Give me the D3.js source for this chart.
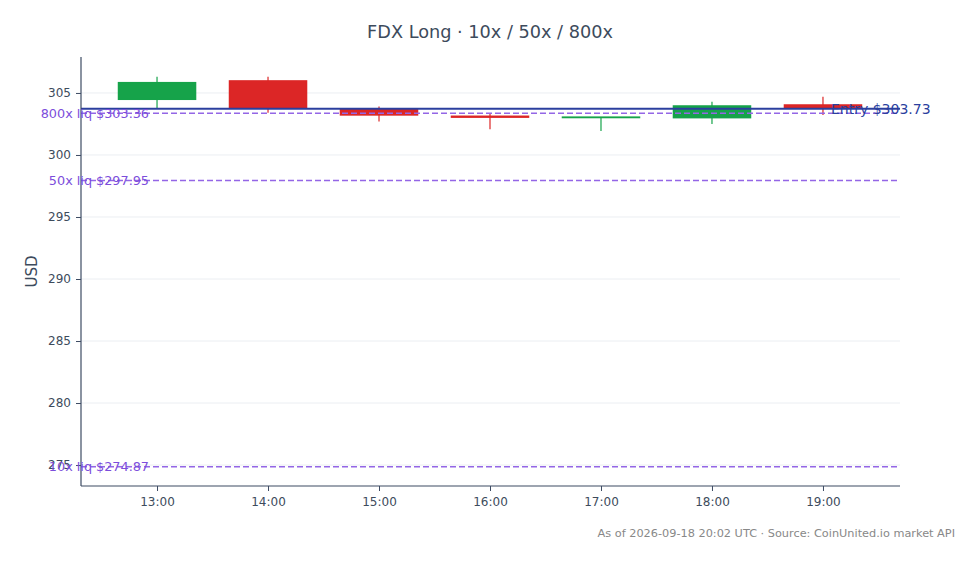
<!DOCTYPE html>
<html><head><meta charset="utf-8">
<script src="https://cdn.jsdelivr.net/npm/d3@7"></script>
<style>body{margin:0;background:#fff}svg{display:block}</style>
</head><body>
<svg id="c" width="979" height="564"></svg>
<script>
// ---- data ----
const times = ["2026-09-18T13:00Z","2026-09-18T14:00Z","2026-09-18T15:00Z","2026-09-18T16:00Z","2026-09-18T17:00Z","2026-09-18T18:00Z","2026-09-18T19:00Z"];
const opens  = [304.49, 305.97, 303.65, 303.12, 303.02, 303.01, 304.03];
const highs  = [306.31, 306.31, 303.90, 303.36, 303.05, 304.30, 304.70];
const lows   = [303.79, 303.40, 302.69, 302.07, 301.94, 302.50, 303.23];
const closes = [305.83, 303.77, 303.23, 303.05, 303.05, 303.95, 303.77];
const entryPrice = 303.73;
const liqLabels = ["800x liq $303.36", "50x liq $297.95", "10x liq $274.87"];
const liqPrices = [303.36, 297.95, 274.87];
const yTicks = [275, 280, 285, 290, 295, 300, 305];
const titleText = "FDX Long · 10x / 50x / 800x";
const footerText = "As of 2026-09-18 20:02 UTC · Source: CoinUnited.io market API";

// ---- layout ----
const svg = d3.select("#c");
const L = 81, R = 900, T = 57, B = 486;
const font = "'DejaVu Sans', sans-serif";
const dates = times.map(t => new Date(t));
const HOUR = 3600e3;
const x = d3.scaleUtc()
  .domain([new Date(+dates[0] - 0.685 * HOUR), new Date(+dates[dates.length - 1] + 0.694 * HOUR)])
  .range([L, R]);
const y = d3.scaleLinear().domain([273.31, 307.9]).range([B, T]);

// grid
svg.append("g").selectAll("line").data(yTicks).join("line")
  .attr("x1", L).attr("x2", R).attr("y1", d => y(d)).attr("y2", d => y(d))
  .attr("stroke", "#ebeef2").attr("stroke-width", 1);

// candles
const candles = dates.map((d, i) => ({d, o: opens[i], h: highs[i], l: lows[i], c: closes[i]}));
const halfW = 0.347 * HOUR;
const g = svg.append("g");
candles.forEach(k => {
  const col = k.c >= k.o ? "#16a34a" : "#dc2626";
  const cx = x(k.d);
  g.append("line").attr("x1", cx).attr("x2", cx).attr("y1", y(k.h)).attr("y2", y(k.l))
    .attr("stroke", col).attr("stroke-width", 1.2);
  const x0 = x(new Date(+k.d - halfW)), x1 = x(new Date(+k.d + halfW));
  const top = y(Math.max(k.o, k.c)), bot = y(Math.min(k.o, k.c));
  g.append("rect").attr("x", x0).attr("width", x1 - x0)
    .attr("y", top).attr("height", Math.max(0.01, bot - top))
    .attr("fill", col).attr("stroke", col).attr("stroke-width", 1.5);
});

// liq lines
svg.append("g").selectAll("line").data(liqPrices).join("line")
  .attr("x1", L).attr("x2", R).attr("y1", d => y(d)).attr("y2", d => y(d))
  .attr("stroke", "#9466e6").attr("stroke-width", 1.5).attr("stroke-dasharray", "6,3");

// entry line
svg.append("line").attr("x1", L).attr("x2", R).attr("y1", y(entryPrice)).attr("y2", y(entryPrice))
  .attr("stroke", "#2b3f9e").attr("stroke-width", 2);

// axes
const yAxis = d3.axisLeft(y).tickValues(yTicks).tickSize(5).tickPadding(5).tickFormat(d3.format("d"));
const ya = svg.append("g").attr("transform", `translate(${L},0)`).call(yAxis);
ya.select(".domain").attr("d", `M0,${T}V${B}`);
const xAxis = d3.axisBottom(x).tickValues(dates).tickSize(5).tickPadding(6).tickFormat(d3.utcFormat("%H:%M"));
const xa = svg.append("g").attr("transform", `translate(0,${B})`).call(xAxis);
xa.select(".domain").attr("d", `M${L},0H${R}`);
[ya, xa].forEach(a => {
  a.select(".domain").attr("stroke", "#3d4b63").attr("stroke-width", 1.2);
  a.selectAll(".tick line").attr("stroke", "#3d4b63");
  a.selectAll(".tick text").attr("fill", "#3d4b5c").attr("font-size", 12).attr("font-family", font);
});

// liq labels
svg.append("g").selectAll("text").data(liqPrices).join("text")
  .attr("x", 149).attr("y", d => y(d)).attr("dy", "0.35em").attr("text-anchor", "end")
  .attr("fill", "#7c4ddb").attr("font-size", 12.8).attr("font-family", font)
  .text((d, i) => liqLabels[i]);

// entry label
svg.append("text").attr("x", 831).attr("y", y(entryPrice)).attr("dy", "0.35em")
  .attr("fill", "#2b3f9e").attr("font-size", 14).attr("font-family", font)
  .text("Entry $" + entryPrice.toFixed(2));

// title
svg.append("text").attr("x", 490).attr("y", 38).attr("text-anchor", "middle")
  .attr("fill", "#3d4b5c").attr("font-size", 17.7).attr("font-family", font).text(titleText);

// y title
svg.append("text").attr("transform", `translate(37,${(T + B) / 2}) rotate(-90)`)
  .attr("text-anchor", "middle").attr("fill", "#3d4b5c").attr("font-size", 15)
  .attr("font-family", font).text("USD");

// footer
svg.append("text").attr("x", 955).attr("y", 537).attr("text-anchor", "end")
  .attr("fill", "#888", ).attr("font-size", 11.3).attr("font-family", font).text(footerText);
</script>
</body></html>
